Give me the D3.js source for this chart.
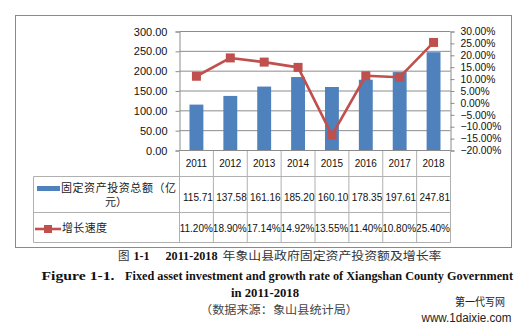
<!DOCTYPE html>
<html>
<head>
<meta charset="utf-8">
<script src="https://cdn.jsdelivr.net/npm/d3@7"></script>
<style>
  html, body { margin: 0; padding: 0; background: #fff; }
  svg { display: block; }
</style>
</head>
<body>
<svg id="chart" width="528" height="332"></svg>
<script>
// Fixed asset investment (100 million yuan) and its growth rate, 2011-2018
const years = ["2011", "2012", "2013", "2014", "2015", "2016", "2017", "2018"];
const investment = [115.71, 137.58, 161.16, 185.20, 160.10, 178.35, 197.61, 247.81];
const growthRate = [11.20, 18.90, 17.14, 14.92, -13.55, 11.40, 10.80, 25.40];
const leftTicks = [0, 50, 100, 150, 200, 250, 300];
const rightTicks = [-20, -15, -10, -5, 0, 5, 10, 15, 20, 25, 30];
const seriesNames = ["固定资产投资总额（亿", "元）", "增长速度"];

const BLUE = "#4f81bd", RED = "#c0504d";
const svg = d3.select("#chart");
const sans = "'Liberation Sans', Arial, sans-serif";
const cjk = "'Noto Sans CJK SC', sans-serif";
const serif = "'Liberation Serif', 'Times New Roman', serif";

// chart frame
svg.append("rect").attr("x", 15.5).attr("y", 15.5).attr("width", 496).attr("height", 232)
  .attr("fill", "#fff").attr("stroke", "#8a8a8a").attr("stroke-width", 1);

const x0 = 179.5, x1 = 450.5, yTop = 31.5, yBot = 150.5;
const x = d3.scaleBand().domain(years).range([x0, x1]).paddingInner(0).paddingOuter(0);
const yL = d3.scaleLinear().domain([0, 300]).range([yBot, yTop]);
const yR = d3.scaleLinear().domain([-20, 30]).range([yBot, yTop]);

// horizontal gridlines
svg.append("g").selectAll("line").data(leftTicks.filter(d => d > 0)).join("line")
  .attr("x1", x0).attr("x2", x1)
  .attr("y1", d => yL(d)).attr("y2", d => yL(d))
  .attr("stroke", "#8c8c8c").attr("stroke-width", 1);

// left axis
const axL = svg.append("g").attr("transform", `translate(${x0},0)`)
  .call(d3.axisLeft(yL).tickValues(leftTicks).tickFormat(d3.format(".2f")).tickSize(4).tickPadding(8));
axL.select(".domain").attr("stroke", "#8c8c8c");
axL.selectAll(".tick line").attr("stroke", "#8c8c8c");
axL.selectAll("text").attr("font-family", sans).attr("font-size", 11).attr("fill", "#111");

// right axis
const axR = svg.append("g").attr("transform", `translate(${x1},0)`)
  .call(d3.axisRight(yR).tickValues(rightTicks).tickFormat(d => d3.format(".2f")(d) + "%").tickSize(4).tickPadding(6));
axR.select(".domain").attr("stroke", "#8c8c8c");
axR.selectAll(".tick line").attr("stroke", "#8c8c8c");
axR.selectAll("text").attr("font-family", sans).attr("font-size", 10.3).attr("fill", "#111");

// bars
const bw = x.bandwidth() * 0.41;
svg.append("g").selectAll("rect").data(years).join("rect")
  .attr("x", (d) => x(d) + (x.bandwidth() - bw) / 2)
  .attr("width", bw)
  .attr("y", (d, i) => yL(investment[i]))
  .attr("height", (d, i) => yBot - yL(investment[i]))
  .attr("fill", BLUE);

// growth line with square markers
const pts = years.map((d, i) => [x(d) + x.bandwidth() / 2, yR(growthRate[i])]);
svg.append("path").attr("d", d3.line()(pts)).attr("fill", "none")
  .attr("stroke", RED).attr("stroke-width", 2.6).attr("stroke-linejoin", "round");
const ms = 9;
svg.append("g").selectAll("rect").data(pts).join("rect")
  .attr("x", d => d[0] - ms / 2).attr("y", d => d[1] - ms / 2)
  .attr("width", ms).attr("height", ms).attr("fill", RED);

// data table
const tblLeft = 33.5, rowTop = 176.5, rowMid = 212.5, rowBot = 242.5;
const grid = "#b0b0b0";
const tbl = svg.append("g");
[rowTop, rowMid, rowBot].forEach(yv => tbl.append("line")
  .attr("x1", tblLeft).attr("x2", x1).attr("y1", yv).attr("y2", yv).attr("stroke", grid));
tbl.append("line").attr("x1", tblLeft).attr("x2", tblLeft).attr("y1", rowTop).attr("y2", rowBot).attr("stroke", grid);
const bounds = years.map(d => x(d)).concat([x1]);
tbl.selectAll(".vb").data(bounds).join("line").attr("class", "vb")
  .attr("x1", d => d).attr("x2", d => d).attr("y1", yBot).attr("y2", rowBot).attr("stroke", grid);
// bottom axis line on top of table verticals
svg.append("line").attr("x1", x0).attr("x2", x1).attr("y1", yBot).attr("y2", yBot).attr("stroke", "#8c8c8c");

// year headers
tbl.selectAll(".yr").data(years).join("text").attr("class", "yr")
  .attr("x", d => x(d) + x.bandwidth() / 2).attr("y", 164)
  .attr("text-anchor", "middle").attr("dominant-baseline", "middle")
  .attr("font-family", sans).attr("font-size", 10).attr("fill", "#111").text(d => d);

// per-cell clipping so long values are cut at the column edges
const defs = svg.append("defs");
years.forEach((d, i) => {
  defs.append("clipPath").attr("id", "cell" + i).append("rect")
    .attr("x", x(d) + 0.5).attr("y", rowTop).attr("width", x.bandwidth() - 0.5).attr("height", rowBot - rowTop);
});
const cellText = (vals, fmt, yv) => tbl.append("g").selectAll("text").data(vals).join("text")
  .attr("clip-path", (d, i) => `url(#cell${i})`)
  .attr("x", (d, i) => x(years[i]) + x.bandwidth() - 0.5).attr("y", yv)
  .attr("text-anchor", "end").attr("dominant-baseline", "middle")
  .attr("font-family", sans).attr("font-size", 10).attr("fill", "#111").text(fmt);
cellText(investment, d => d3.format(".2f")(d), 198.5);
cellText(growthRate, d => d3.format(".2f")(d) + "%", 229);

// legend keys and names
tbl.append("rect").attr("x", 37).attr("y", 186).attr("width", 23).attr("height", 5).attr("fill", BLUE);
tbl.append("text").attr("x", 61).attr("y", 189).attr("dominant-baseline", "middle")
  .attr("font-family", cjk).attr("font-size", 11).attr("fill", "#222")
  .attr("textLength", 115).attr("lengthAdjust", "spacing").text(seriesNames[0]);
tbl.append("text").attr("x", 116).attr("y", 203.5).attr("text-anchor", "middle").attr("dominant-baseline", "middle")
  .attr("font-family", cjk).attr("font-size", 11).attr("fill", "#222").text(seriesNames[1]);
tbl.append("line").attr("x1", 35).attr("x2", 61).attr("y1", 229).attr("y2", 229).attr("stroke", RED).attr("stroke-width", 2.6);
tbl.append("rect").attr("x", 44).attr("y", 225).attr("width", 8).attr("height", 8).attr("fill", RED);
tbl.append("text").attr("x", 62).attr("y", 229).attr("dominant-baseline", "middle")
  .attr("font-family", cjk).attr("font-size", 11).attr("fill", "#222")
  .attr("textLength", 45).attr("lengthAdjust", "spacing").text(seriesNames[2]);

// captions
const cap = (t, xv, yv, opts) => {
  const el = svg.append("text").attr("x", xv).attr("y", yv).attr("dominant-baseline", "middle")
    .attr("font-family", opts.font).attr("font-size", opts.size).attr("fill", opts.color || "#111")
    .attr("font-weight", opts.weight || "normal").text(t);
  if (opts.len) el.attr("textLength", opts.len).attr("lengthAdjust", "spacingAndGlyphs");
  return el;
};
cap("图", 118, 257, { font: cjk, size: 11.5, color: "#333" });
cap("1-1", 133.5, 257, { font: serif, size: 12, weight: "bold", len: 16 });
cap("2011-2018", 165.5, 257, { font: serif, size: 12, weight: "bold", len: 52 });
cap("年象山县政府固定资产投资额及增长率", 222.5, 257, { font: cjk, size: 11.5, color: "#333", len: 219 });
cap("Figure 1-1.", 41.5, 277, { font: serif, size: 12.5, weight: "bold", len: 73 });
cap("Fixed asset investment and growth rate of Xiangshan County Government", 125, 277, { font: serif, size: 12, weight: "bold", len: 388 });
cap("in 2011-2018", 231, 294, { font: serif, size: 12.5, weight: "bold", len: 68 });
cap("（数据来源：象山县统计局）", 200, 311, { font: cjk, size: 11.5, color: "#444", len: 158 });
cap("第一代写网", 455, 303, { font: cjk, size: 11.5, color: "#222", len: 50 });
cap("www.1daixie.com", 421.5, 319, { font: sans, size: 12, color: "#222", len: 90 });
</script>
</body>
</html>
